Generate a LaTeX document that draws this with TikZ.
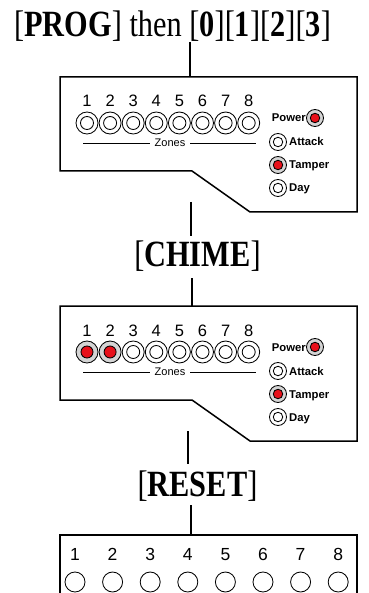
\documentclass[tikz,border=0pt]{standalone}
\usepackage{fontspec}
\setmainfont{Liberation Serif}
\setsansfont{Liberation Sans}
\newfontfamily\condserif[FakeStretch=0.82]{Liberation Serif}
\definecolor{ledred}{HTML}{E8101A}
\definecolor{ringgray}{HTML}{D4D4D4}
\begin{document}
\begin{tikzpicture}[x=1pt,y=-1pt,
  conn/.style={line width=2.2pt},
  panel/.style={line width=1.5pt, line join=miter},
  big/.style={font=\condserif\fontsize{37}{37}\selectfont, inner sep=0pt, anchor=base},
  znum/.style={font=\sffamily\fontsize{16.5}{16.5}\selectfont, inner sep=0pt, anchor=base},
  bnum/.style={font=\sffamily\fontsize{17.5}{17.5}\selectfont, inner sep=0pt, anchor=base},
  zlbl/.style={font=\sffamily\fontsize{11}{11}\selectfont, inner xsep=5pt, inner ysep=0pt},
  ledlbl/.style={font=\sffamily\bfseries\fontsize{11.3}{11.3}\selectfont, inner sep=0pt},
  zring/.style={circle, draw, line width=0.85pt, minimum size=22pt, inner sep=0pt},
  zin/.style={circle, draw, line width=0.85pt, minimum size=13pt, inner sep=0pt},
  litring/.style={zring, fill=ringgray},
  litin/.style={zin, fill=ledred, minimum size=12pt},
  sring/.style={circle, draw, line width=0.85pt, minimum size=17pt, inner sep=0pt},
  sin/.style={circle, draw, line width=0.85pt, minimum size=9.5pt, inner sep=0pt},
  slitring/.style={sring, fill=ringgray},
  slitin/.style={sin, fill=ledred},
  bring/.style={circle, draw, line width=0.85pt, minimum size=20pt, inner sep=0pt},
  thinline/.style={line width=0.9pt}
]
\useasboundingbox (0,0) rectangle (368,593);

% labels
\node[big] (title) at (172.5,37) {[\textbf{PROG}] then [\textbf{0}][\textbf{1}][\textbf{2}][\textbf{3}]};
\node[big] (chime) at (197.5,266) {[\textbf{CHIME}]};
\node[big] (reset) at (197.5,496) {[\textbf{RESET}]};

% panels
\foreach \p/\dy in {1/0,2/229} {
  \begin{scope}[shift={(0,\dy)}]
    \draw[panel] (60,77) -- (357,77) -- (357,212) -- (250,212) -- (192,171) -- (60,171) -- cycle;
    \foreach \i in {1,...,8} {
      \pgfmathsetmacro\zx{87+23.1*(\i-1)}
      \ifnum\p=2 \ifnum\i<3 \def\rs{litring}\def\is{litin}\else\def\rs{zring}\def\is{zin}\fi\else\def\rs{zring}\def\is{zin}\fi
      \node[\rs] (p\p z\i) at (\zx,123) {};
      \node[\is] (p\p zi\i) at (\zx,123) {};
      \node[znum] (p\p n\i) at (\zx,107) {\i};
    }
    \node[zlbl] (p\p zl) at (170,143) {Zones};
    \coordinate (p\p zla) at (83,143);
    \coordinate (p\p zlb) at (256,143);
    \draw[thinline] (p\p zla) -- (p\p zl.west);
    \draw[thinline] (p\p zl.east) -- (p\p zlb);
    % status LEDs
    \node[slitring] (p\p pw) at (315,118) {};
    \node[slitin] (p\p pwi) at (315,118) {};
    \node[ledlbl, anchor=base east] (p\p pwl) at (306,122) {Power};
    \node[sring] (p\p at) at (278,142) {};
    \node[sin] (p\p ati) at (278,142) {};
    \node[ledlbl, anchor=base west] (p\p atl) at (289,146) {Attack};
    \node[slitring] (p\p tp) at (278,165) {};
    \node[slitin] (p\p tpi) at (278,165) {};
    \node[ledlbl, anchor=base west] (p\p tpl) at (289,169) {Tamper};
    \node[sring] (p\p dy) at (278,188) {};
    \node[sin] (p\p dyi) at (278,188) {};
    \node[ledlbl, anchor=base west] (p\p dyl) at (289,192) {Day};
  \end{scope}
}

% connectors
\coordinate (p1top) at (190,77);
\draw[conn] (title.south -| p1top) -- (p1top);
\coordinate (c1a) at (191,202);
\coordinate (c1b) at (191,236);
\draw[conn] (c1a) -- (c1b);
\coordinate (c2a) at (192,278);
\coordinate (p2top) at (192,306);
\draw[conn] (c2a) -- (p2top);
\coordinate (c3a) at (188,431);
\coordinate (c3b) at (188,464);
\draw[conn] (c3a) -- (c3b);
\coordinate (c4a) at (191,505);
\coordinate (btop) at (191,535);
\draw[conn] (c4a) -- (btop);

% bottom box
\draw[panel] (60,597) -- (60,535) -- (357,535) -- (357,597);
\foreach \i in {1,...,8} {
  \pgfmathsetmacro\bx{75+37.6*(\i-1)}
  \node[bring] (b\i) at (\bx,582) {};
  \node[bnum] (bn\i) at (\bx,560) {\i};
}
\end{tikzpicture}
\end{document}
